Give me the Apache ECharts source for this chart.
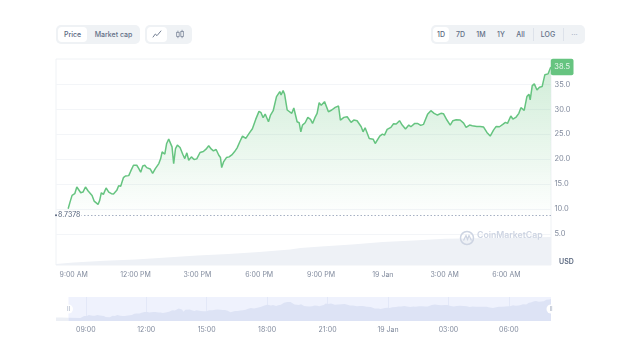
<!DOCTYPE html>
<html>
<head>
<meta charset="utf-8">
<style>
  html, body { margin: 0; padding: 0; background: #fff; }
  #main { position: absolute; left: 0; top: 0; width: 630px; height: 355px; }
  .group { position: absolute; top: 25px; height: 18.5px; background: #eff2f5; border-radius: 5px; }
  .btn { position: absolute; top: 2px; height: 14.5px; font: 500 7px Inter, sans-serif; line-height: 15px; text-align: center; color: #616e85; border-radius: 4px; }
  .on { background: #fff; color: #58667e; }
  .sep { position: absolute; top: 3px; height: 12.5px; width: 1px; background: #dde2ea; }
</style>
</head>
<body>
<div id="main"></div>
<div class="group" style="left:56px;width:84px">
  <div class="btn on" style="left:2px;width:29px">Price</div>
  <div class="btn" style="left:33px;width:49px">Market cap</div>
</div>
<div class="group" style="left:145px;width:47px">
  <div class="btn on" style="left:2px;width:20px">
    <svg width="10" height="10" viewBox="0 0 12 12" style="margin-top:2px"><polyline points="1,10 4,6 6,8 11,2" fill="none" stroke="#58667e" stroke-width="1"/></svg>
  </div>
  <div class="btn" style="left:25px;width:20px">
    <svg width="10" height="10" viewBox="0 0 12 12" style="margin-top:2px"><rect x="2" y="4" width="3" height="5" fill="none" stroke="#808a9d" stroke-width="1"/><rect x="7" y="3" width="3" height="6" fill="none" stroke="#808a9d" stroke-width="1"/><path d="M3.5 2v2M3.5 9v2M8.5 1v2M8.5 9v2" stroke="#808a9d" stroke-width="1"/></svg>
  </div>
</div>
<div class="group" style="left:431px;width:154px">
  <div class="btn on" style="left:2px;width:16px">1D</div>
  <div class="btn" style="left:21px;width:17px">7D</div>
  <div class="btn" style="left:41px;width:18px">1M</div>
  <div class="btn" style="left:62px;width:16px">1Y</div>
  <div class="btn" style="left:81px;width:17px">All</div>
  <div class="sep" style="left:102px"></div>
  <div class="btn" style="left:105px;width:24px">LOG</div>
  <div class="sep" style="left:132px"></div>
  <div class="btn" style="left:135px;width:17px;color:#a6b0c3">···</div>
</div>
<script src="https://cdn.jsdelivr.net/npm/echarts@6/dist/echarts.min.js"></script>
<script>
// 小时从 18 Jan 00:00 算起
var priceHours = [8.73, 8.82, 8.92, 9.05, 9.15, 9.24, 9.34, 9.45, 9.57, 9.70, 9.79, 9.89, 9.99, 10.08, 10.18, 10.26, 10.34, 10.44, 10.57, 10.70, 10.83, 10.93, 11.09, 11.18, 11.28, 11.41, 11.51, 11.67, 11.77, 11.90, 11.96, 12.06, 12.16, 12.25, 12.35, 12.45, 12.54, 12.61, 12.71, 12.83, 12.96, 13.13, 13.22, 13.29, 13.42, 13.51, 13.61, 13.69, 13.77, 13.85, 13.94, 14.03, 14.16, 14.29, 14.39, 14.49, 14.58, 14.71, 14.84, 14.97, 15.13, 15.29, 15.42, 15.55, 15.68, 15.78, 15.91, 16.04, 16.12, 16.18, 16.27, 16.41, 16.54, 16.67, 16.80, 16.93, 17.06, 17.19, 17.35, 17.51, 17.67, 17.83, 17.99, 18.09, 18.19, 18.29, 18.35, 18.45, 18.55, 18.68, 18.84, 19.00, 19.06, 19.16, 19.23, 19.36, 19.45, 19.58, 19.68, 19.84, 19.94, 20.02, 20.10, 20.23, 20.36, 20.49, 20.59, 20.71, 20.81, 20.91, 21.01, 21.17, 21.36, 21.52, 21.69, 21.85, 21.94, 22.11, 22.27, 22.46, 22.59, 22.75, 22.95, 23.04, 23.14, 23.34, 23.53, 23.63, 23.72, 23.85, 23.98, 24.08, 24.21, 24.39, 24.52, 24.65, 24.81, 24.94, 25.10, 25.26, 25.36, 25.55, 25.68, 25.84, 25.97, 26.17, 26.33, 26.49, 26.65, 26.82, 26.94, 27.11, 27.27, 27.40, 27.56, 27.75, 27.92, 28.04, 28.21, 28.34, 28.43, 28.56, 28.72, 28.89, 29.05, 29.21, 29.37, 29.50, 29.66, 29.82, 29.95, 30.05, 30.21, 30.31, 30.47, 30.60, 30.70, 30.86, 30.99, 31.09, 31.15, 31.25, 31.35, 31.48, 31.60, 31.73, 31.86, 32.02, 32.15]
var priceValues = [10.03, 11.37, 12.72, 13.06, 14.40, 14.54, 13.26, 13.39, 14.40, 13.60, 13.39, 12.72, 11.58, 11.58, 10.91, 11.72, 13.26, 12.92, 14.20, 13.39, 13.06, 12.99, 13.73, 14.67, 14.54, 16.28, 16.62, 16.69, 17.63, 18.77, 18.57, 18.77, 18.10, 17.36, 18.64, 18.77, 18.30, 17.90, 18.03, 17.16, 18.10, 19.11, 20.11, 21.46, 20.99, 23.14, 24.01, 24.01, 22.47, 19.11, 22.13, 22.80, 22.33, 20.99, 20.11, 21.26, 19.78, 20.45, 19.91, 20.05, 21.33, 21.53, 22.00, 22.67, 22.00, 21.66, 21.93, 20.79, 20.32, 18.30, 19.44, 20.32, 20.45, 20.85, 21.46, 22.27, 23.48, 24.62, 24.15, 25.16, 26.10, 27.98, 29.59, 29.32, 28.31, 29.05, 28.78, 27.51, 28.85, 29.72, 32.55, 33.56, 32.88, 33.76, 33.08, 29.86, 30.20, 29.19, 30.26, 27.51, 27.31, 25.49, 26.83, 27.31, 28.38, 27.98, 27.17, 28.38, 29.19, 31.34, 30.80, 31.54, 29.52, 29.86, 30.40, 30.67, 27.84, 28.38, 28.51, 27.37, 27.84, 27.71, 26.50, 25.49, 26.30, 24.15, 24.01, 23.14, 23.01, 24.62, 25.02, 24.82, 25.96, 26.37, 27.11, 27.04, 27.71, 26.84, 26.03, 26.84, 26.50, 27.17, 27.17, 26.77, 26.97, 28.99, 29.73, 29.19, 28.85, 29.19, 29.12, 27.85, 26.84, 27.71, 27.91, 27.85, 27.24, 26.37, 26.84, 26.70, 26.91, 26.57, 26.57, 26.43, 25.36, 24.62, 25.83, 26.57, 26.50, 26.97, 27.38, 27.17, 28.65, 28.05, 28.45, 29.19, 30.33, 29.79, 32.55, 33.02, 31.88, 34.77, 35.10, 33.89, 34.43, 34.57, 36.92, 37.12, 38.5]
var volumeHours = [8.14, 9, 10.5, 12, 13.5, 15, 16.5, 18, 19.5, 20, 21, 22.5, 24, 25.5, 27, 28.5, 30, 32.16]
var volumeValues = [0.1, 0.25, 0.42, 0.55, 0.75, 0.95, 1.1, 1.3, 1.55, 1.7, 1.85, 2.05, 2.3, 2.45, 2.62, 2.68, 2.72, 2.8]
var miniPreHours = [7.52, 7.8, 8.14]
var miniPreValues = [10.6, 10.5, 10.4]
var openPrice = 8.7378
var yTicks = [5, 10, 15, 20, 25, 30, 35]
var xTicks = [9, 12, 15, 18, 21, 24, 27, 30]
var xLabels = ['9:00 AM', '12:00 PM', '3:00 PM', '6:00 PM', '9:00 PM', '19 Jan', '3:00 AM', '6:00 AM']
var miniLabels = ['09:00', '12:00', '15:00', '18:00', '21:00', '19 Jan', '03:00', '06:00']

function pairs(xs, ys) {
  return xs.map(function(x, i) { return [x, ys[i]] })
}

var font = 'Inter, sans-serif'
var chart = echarts.init(document.getElementById('main'))
var watermarkColor = '#cdd4e2'
var option = {
  animation: false,
  textStyle: { fontFamily: font },
  grid: [
    { left: 56, right: 79, top: 59, height: 206, show: true, borderColor: '#eff2f5', borderWidth: 1 },
    { left: 56, right: 79, top: 59, height: 206 },
    { left: 56, right: 79, top: 297, height: 24, show: true, backgroundColor: '#eff2fd', borderWidth: 0 }
  ],
  xAxis: [
    {
      type: 'value', gridIndex: 0, min: 8.14, max: 32.16,
      axisLine: { show: false },
      axisTick: { show: false, customValues: xTicks },
      splitLine: { show: false },
      axisLabel: {
        customValues: xTicks, color: '#808a9d', fontSize: 7, margin: 6,
        formatter: function(v) { return xLabels[xTicks.indexOf(v)] }
      }
    },
    { type: 'value', gridIndex: 1, min: 8.14, max: 32.16, show: false },
    {
      type: 'value', gridIndex: 2, min: 7.52, max: 32.09,
      axisLine: { show: false },
      axisTick: { show: false, customValues: xTicks },
      splitLine: { show: true, lineStyle: { color: '#e3e8f8' } },
      axisLabel: {
        customValues: xTicks, color: '#808a9d', fontSize: 7, margin: 5,
        formatter: function(v) { return miniLabels[xTicks.indexOf(v)] }
      }
    }
  ],
  yAxis: [
    {
      type: 'value', gridIndex: 0, position: 'right', min: -1.25, max: 40.1,
      axisLine: { show: false },
      axisTick: { show: false, customValues: yTicks },
      splitLine: { show: true, lineStyle: { color: '#f3f5f8' } },
      axisLabel: {
        customValues: yTicks, color: '#808a9d', fontSize: 7.5, margin: 3.5,
        formatter: function(v) { return v.toFixed(1) }
      }
    },
    { type: 'value', gridIndex: 1, min: 0, max: 20.6, show: false },
    { type: 'value', gridIndex: 2, min: 5.5, max: 41, show: false }
  ],
  series: [
    {
      name: 'volume', type: 'line', xAxisIndex: 1, yAxisIndex: 1, z: 1,
      showSymbol: false, silent: true,
      lineStyle: { width: 0 },
      areaStyle: { color: '#eef1f6', opacity: 1 },
      data: pairs(volumeHours, volumeValues)
    },
    {
      name: 'price', type: 'line', xAxisIndex: 0, yAxisIndex: 0, z: 3,
      showSymbol: false, silent: true,
      lineStyle: { color: '#66c480', width: 1.5 },
      areaStyle: {
        origin: 'start', opacity: 1,
        color: new echarts.graphic.LinearGradient(0, 0, 0, 1, [
          { offset: 0, color: 'rgba(100,195,125,0.3)' },
          { offset: 0.76, color: 'rgba(100,195,125,0)' }
        ])
      },
      endLabel: {
        show: true, distance: 0, backgroundColor: '#66c480', color: '#eaf7ee',
        fontSize: 7.5, borderRadius: 2, padding: [4.5, 3.5, 4, 3.5],
        formatter: function() { return priceValues[priceValues.length - 1].toFixed(1) }
      },
      markLine: {
        silent: true, symbol: 'none',
        label: { show: false },
        lineStyle: { color: '#a6b0c3', type: [1.5, 2], width: 1 },
        data: [{ yAxis: openPrice }]
      },
      markPoint: {
        silent: true, symbol: 'circle', symbolSize: 2,
        itemStyle: { color: '#58667e' },
        label: {
          show: true, position: 'right', distance: 0, color: '#58667e', fontSize: 7,
          backgroundColor: '#fff', padding: [1, 1, 0, 1],
          formatter: function() { return openPrice.toFixed(4) }
        },
        data: [{ coord: [8.14, openPrice] }]
      },
      data: pairs(priceHours, priceValues)
    },
    {
      name: 'miniPre', type: 'line', xAxisIndex: 2, yAxisIndex: 2, z: 2,
      showSymbol: false, silent: true,
      lineStyle: { width: 0 },
      areaStyle: { color: '#eceff5', opacity: 1 },
      markArea: {
        silent: true, itemStyle: { color: '#fff' },
        data: [[{ xAxis: 7.52 }, { xAxis: 8.14 }]]
      },
      data: pairs(miniPreHours, miniPreValues)
    },
    {
      name: 'mini', type: 'line', xAxisIndex: 2, yAxisIndex: 2, z: 2,
      showSymbol: false, silent: true,
      lineStyle: { width: 0 },
      areaStyle: { color: '#dde3f5', opacity: 1 },
      markPoint: {
        silent: true, symbol: 'circle', symbolSize: 9,
        itemStyle: { color: '#fff' },
        label: { show: true, position: 'inside', color: '#a6b0c3', fontSize: 6, formatter: 'II' },
        data: [{ coord: [8.14, 23.25] }, { coord: [32.09, 23.25] }]
      },
      data: pairs(miniPreHours.slice(-1), miniPreValues.slice(-1)).concat(pairs(priceHours, priceValues))
    }
  ],
  graphic: [
    { type: 'text', left: 559, top: 258, style: { text: 'USD', fill: '#58667e', font: '600 7px ' + font } },
    { type: 'circle', z: 10, left: 458, top: 229, shape: { r: 6.5 }, style: { fill: 'none', stroke: watermarkColor, lineWidth: 1.5 } },
    { type: 'polyline', z: 10, left: 461, top: 233, shape: { points: [[0, 6], [2.5, 1], [4, 5], [5.5, 1], [8, 6]] }, style: { fill: 'none', stroke: watermarkColor, lineWidth: 1.3 } },
    { type: 'text', z: 10, left: 477, top: 231, style: { text: 'CoinMarketCap', fill: watermarkColor, font: '600 8.7px ' + font } }
  ]
}
chart.setOption(option)
</script>
</body>
</html>
